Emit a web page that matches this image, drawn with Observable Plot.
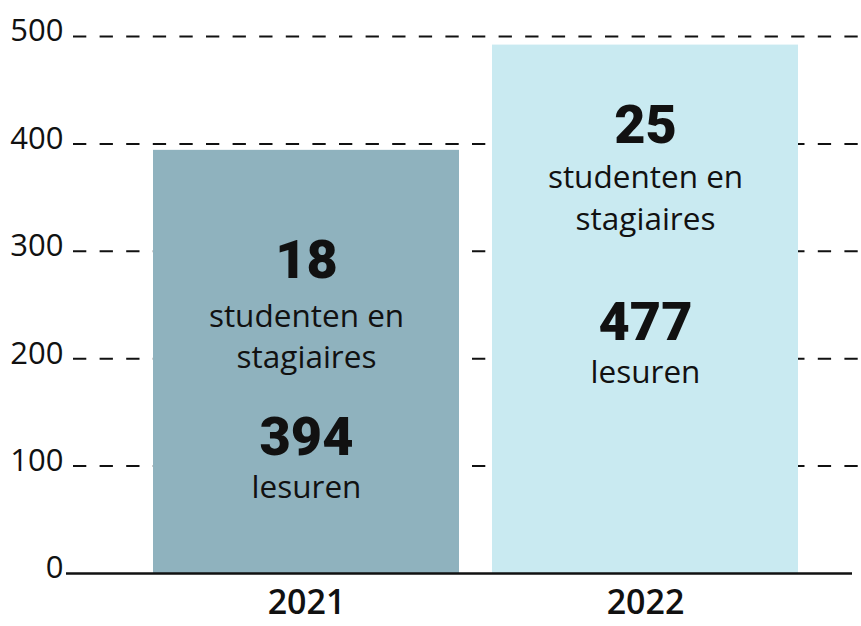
<!DOCTYPE html>
<html><head><meta charset="utf-8">
<script src="https://cdn.jsdelivr.net/npm/d3@7"></script>
<script src="https://cdn.jsdelivr.net/npm/@observablehq/plot@0.6"></script>
<style>
body{margin:0;background:#fff;}
#chart svg{display:block;}
</style>
</head><body><div id="chart"></div>
<script>
// ---- data ----
const years = ["2021", "2022"];
const barValues = [394, 492];
const students = [18, 25];
const hours = [394, 477];
const studentLines = ["studenten en", "stagiaires"];
const hoursLine = "lesuren";
const yTicks = [0, 100, 200, 300, 400, 500];
const barColors = ["#8FB2BE", "#C9EAF1"];

const rows = years.map((year, i) => ({year, value: barValues[i], students: students[i], hours: hours[i]}));

// per-year label offsets (pixels below the bar top): [studentsNum, line1, line2, hoursNum, hoursLine]
const labelOffsets = {"2021": [110, 167, 208, 287, 338], "2022": [81, 133, 175, 278, 328]};

const ink = "#111";
const textFont = "'Open Sans', sans-serif";
const numFont = "Roboto, sans-serif";
const labelMarks = [];
for (const yr of years) {
  const d = rows.filter(r => r.year === yr);
  const o = labelOffsets[yr];
  labelMarks.push(
    Plot.text(d, {x: "year", y: "value", text: r => String(r.students), dy: o[0], fontSize: 54, fontWeight: 900, fontFamily: numFont, fill: ink}),
    Plot.text(d, {x: "year", y: "value", text: () => studentLines[0], dy: o[1], fontSize: 31.5, fontFamily: textFont, fill: ink}),
    Plot.text(d, {x: "year", y: "value", text: () => studentLines[1], dy: o[2], fontSize: 31.5, fontFamily: textFont, fill: ink}),
    Plot.text(d, {x: "year", y: "value", text: r => String(r.hours), dy: o[3], fontSize: 54, fontWeight: 900, fontFamily: numFont, fill: ink}),
    Plot.text(d, {x: "year", y: "value", text: () => hoursLine, dy: o[4], fontSize: 31.5, fontFamily: textFont, fill: ink})
  );
}

const chart = Plot.plot({
  width: 861,
  height: 626,
  marginTop: 36,
  marginBottom: 53,
  marginLeft: 66,
  marginRight: 9,
  style: {fontFamily: textFont, color: ink, background: "#fff"},
  x: {domain: years, range: [152, 799], paddingInner: 0.097, paddingOuter: 0, label: null},
  y: {domain: [0, 500], label: null},
  color: {domain: years, range: barColors},
  marks: [
    Plot.gridY(yTicks.filter(t => t > 0), {stroke: ink, strokeOpacity: 1, strokeWidth: 2, strokeDasharray: "13.3,13.3", insetLeft: 7, insetRight: -8}),
    Plot.barY(rows, {x: "year", y: "value", fill: "year"}),
    Plot.ruleY([0], {stroke: ink, strokeWidth: 2.5}),
    Plot.axisY(yTicks, {tickSize: 0, tickPadding: 3, fontSize: 31, dy: -5, label: null, fill: ink}),
    Plot.axisX({tickSize: 0, tickPadding: 16, fontSize: 34, fontWeight: 600, label: null, fill: ink}),
    ...labelMarks
  ]
});
document.getElementById("chart").append(chart);
</script>
</body></html>
